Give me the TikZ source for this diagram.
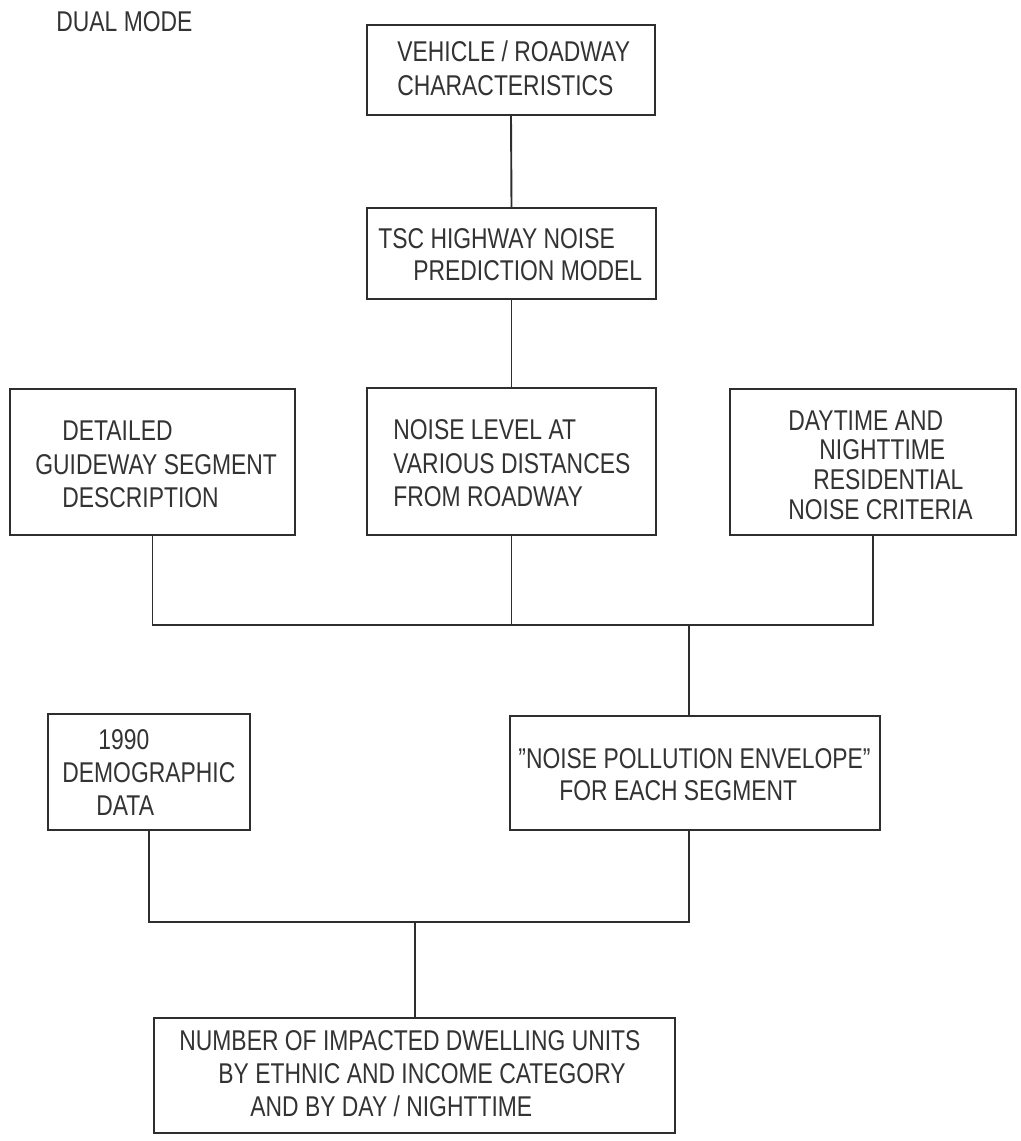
\documentclass[tikz,border=0pt]{standalone}
\usepackage{fontspec}
\setmainfont{Liberation Sans}[FakeStretch=0.8]
\usetikzlibrary{fit}
\definecolor{ink}{HTML}{2E2E2E}
\definecolor{type}{HTML}{333333}
\begin{document}
\begin{tikzpicture}[x=0.5pt,y=-0.5pt,
  box/.style={draw=ink,line width=0.95pt,inner sep=0pt},
  txt/.style={anchor=base west,inner sep=0pt,text=type,
    font=\fontsize{14.3}{16}\selectfont},
  link/.style={draw=ink,line width=0.95pt}]
\useasboundingbox[fill=white] (0,0) rectangle (1021,1141);

% title
\node[txt] (title) at (56,31) {DUAL MODE};

% boxes
\node[box,fit={(367,25) (655,115)}]  (veh)   {};
\node[box,fit={(367,208) (656,299)}] (tsc)   {};
\node[box,fit={(10,389) (295,535)}]  (det)   {};
\node[box,fit={(367,388) (656,535)}] (noise) {};
\node[box,fit={(730,389) (1016,535)}] (crit) {};
\node[box,fit={(48,714) (250,830)}]  (demo)  {};
\node[box,fit={(510,716) (880,830)}] (env)   {};
\node[box,fit={(154,1018) (675,1133)}] (num) {};

% box texts
\node[txt] (veh1) at (397,61) {VEHICLE / ROADWAY};
\node[txt] (veh2) at (397,95) {CHARACTERISTICS};

\node[txt] (tsc1) at (378,248) {TSC HIGHWAY NOISE};
\node[txt] (tsc2) at (413,280) {PREDICTION MODEL};

\node[txt] (det1) at (62,440) {DETAILED};
\node[txt] (det2) at (35,474) {GUIDEWAY SEGMENT};
\node[txt] (det3) at (62,507) {DESCRIPTION};

\node[txt] (noise1) at (393,439) {NOISE LEVEL AT};
\node[txt] (noise2) at (393,473) {VARIOUS DISTANCES};
\node[txt] (noise3) at (393,506) {FROM ROADWAY};

\node[txt] (crit1) at (788,430) {DAYTIME AND};
\node[txt] (crit2) at (819,459) {NIGHTTIME};
\node[txt] (crit3) at (813,489) {RESIDENTIAL};
\node[txt] (crit4) at (788,519) {NOISE CRITERIA};

\node[txt] (demo1) at (98,749) {1990};
\node[txt] (demo2) at (62,782) {DEMOGRAPHIC};
\node[txt] (demo3) at (96,815) {DATA};

\node[txt] (env1) at (518,768) {\symbol{34}NOISE POLLUTION ENVELOPE\symbol{34}};
\node[txt] (env2) at (559,800) {FOR EACH SEGMENT};

\node[txt] (num1) at (179,1050) {NUMBER OF IMPACTED DWELLING UNITS};
\node[txt] (num2) at (218,1083) {BY ETHNIC AND INCOME CATEGORY};
\node[txt] (num3) at (250,1116) {AND BY DAY / NIGHTTIME};

% junctions of the collecting lines
\coordinate (j1) at (689,625);
\coordinate (j2) at (415,922);

% connectors
\draw[link] (veh.south) -- (tsc.north);
\draw[link] (tsc.south) -- (noise.north);
\draw[link] (det.south) |- (crit.south |- j1) -- (crit.south);
\draw[link] (noise.south) -- (noise.south |- j1);
\draw[link] (j1) -- (j1 |- env.north);
\draw[link] (demo.south) |- (j1 |- j2) -- (j1 |- env.south);
\draw[link] (j2) -- (j2 |- num.north);
\end{tikzpicture}
\end{document}
